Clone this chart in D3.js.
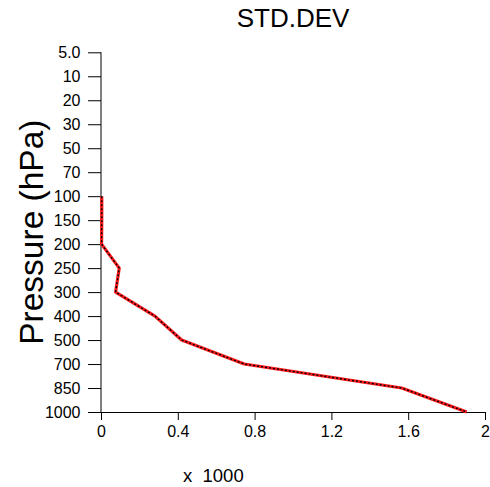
<!DOCTYPE html>
<html>
<head>
<meta charset="utf-8">
<script src="https://cdn.jsdelivr.net/npm/d3@7"></script>
<style>
  html, body { margin: 0; padding: 0; background: #fff; }
  svg { display: block; font-family: "Liberation Sans", Arial, Helvetica, sans-serif; }
</style>
</head>
<body>
<svg id="chart" width="490" height="487"></svg>
<script>
// Pressure levels (hPa), top of the profile first
const levels = ["5.0", "10", "20", "30", "50", "70", "100", "150", "200", "250", "300", "400", "500", "700", "850", "1000"];
// Standard deviation at each level (units of 1000); null where no data
const stdDev = [null, null, null, null, null, null, 0.004, 0.004, 0.003, 0.095, 0.076, 0.281, 0.42, 0.746, 1.566, 1.905];
// Horizontal axis ticks
const xTicks = [0, 0.4, 0.8, 1.2, 1.6, 2];

const svg = d3.select("#chart");
const plotLeft = 101, plotRight = 485, plotTop = 52.3, plotBottom = 412;

const x = d3.scaleLinear().domain([0, 2]).range([plotLeft, plotRight]);
const y = d3.scalePoint().domain(levels).range([plotTop, plotBottom]);

// Title
svg.append("text")
  .attr("x", (plotLeft + plotRight) / 2).attr("y", 26.5)
  .attr("text-anchor", "middle")
  .attr("font-size", 26)
  .text("STD.DEV");

// Left axis
const yAxis = svg.append("g")
  .attr("transform", `translate(${plotLeft},0)`)
  .call(d3.axisLeft(y).tickSize(13).tickPadding(7.5).tickSizeOuter(0));
yAxis.select(".domain").remove();
yAxis.append("line")
  .attr("x1", 0).attr("x2", 0).attr("y1", plotTop).attr("y2", plotBottom)
  .attr("stroke", "#000");
yAxis.selectAll("text").attr("font-size", 16).attr("fill", "#000")
  .attr("font-family", "\"Liberation Sans\", Arial, sans-serif");

// Bottom axis
const xAxis = svg.append("g")
  .attr("transform", `translate(0,${plotBottom})`)
  .call(d3.axisBottom(x).tickValues(xTicks).tickFormat(d3.format("~g")).tickSize(8).tickPadding(6).tickSizeOuter(0));
xAxis.selectAll("text").attr("font-size", 16).attr("fill", "#000")
  .attr("font-family", "\"Liberation Sans\", Arial, sans-serif");

// Axis titles
svg.append("text")
  .attr("transform", `translate(43,${(plotTop + plotBottom) / 2}) rotate(-90)`)
  .attr("text-anchor", "middle")
  .attr("font-size", 33.5)
  .text("Pressure (hPa)");

svg.append("text")
  .attr("x", 183).attr("y", 482)
  .attr("font-size", 18.5)
  .style("white-space", "pre")
  .text("x  1000");

// Profile line: red with a black dotted overlay
const pts = levels.map((lv, i) => ({ lv, v: stdDev[i] }));
const line = d3.line()
  .defined(d => d.v !== null)
  .x(d => x(d.v))
  .y(d => y(d.lv));

svg.append("path")
  .datum(pts)
  .attr("d", line)
  .attr("fill", "none")
  .attr("stroke", "#ff1a1a")
  .attr("stroke-width", 3.2)
  .attr("stroke-linejoin", "round");

svg.append("path")
  .datum(pts)
  .attr("d", line)
  .attr("fill", "none")
  .attr("stroke", "#000")
  .attr("stroke-width", 1.4)
  .attr("stroke-dasharray", "2,2");
</script>
</body>
</html>
